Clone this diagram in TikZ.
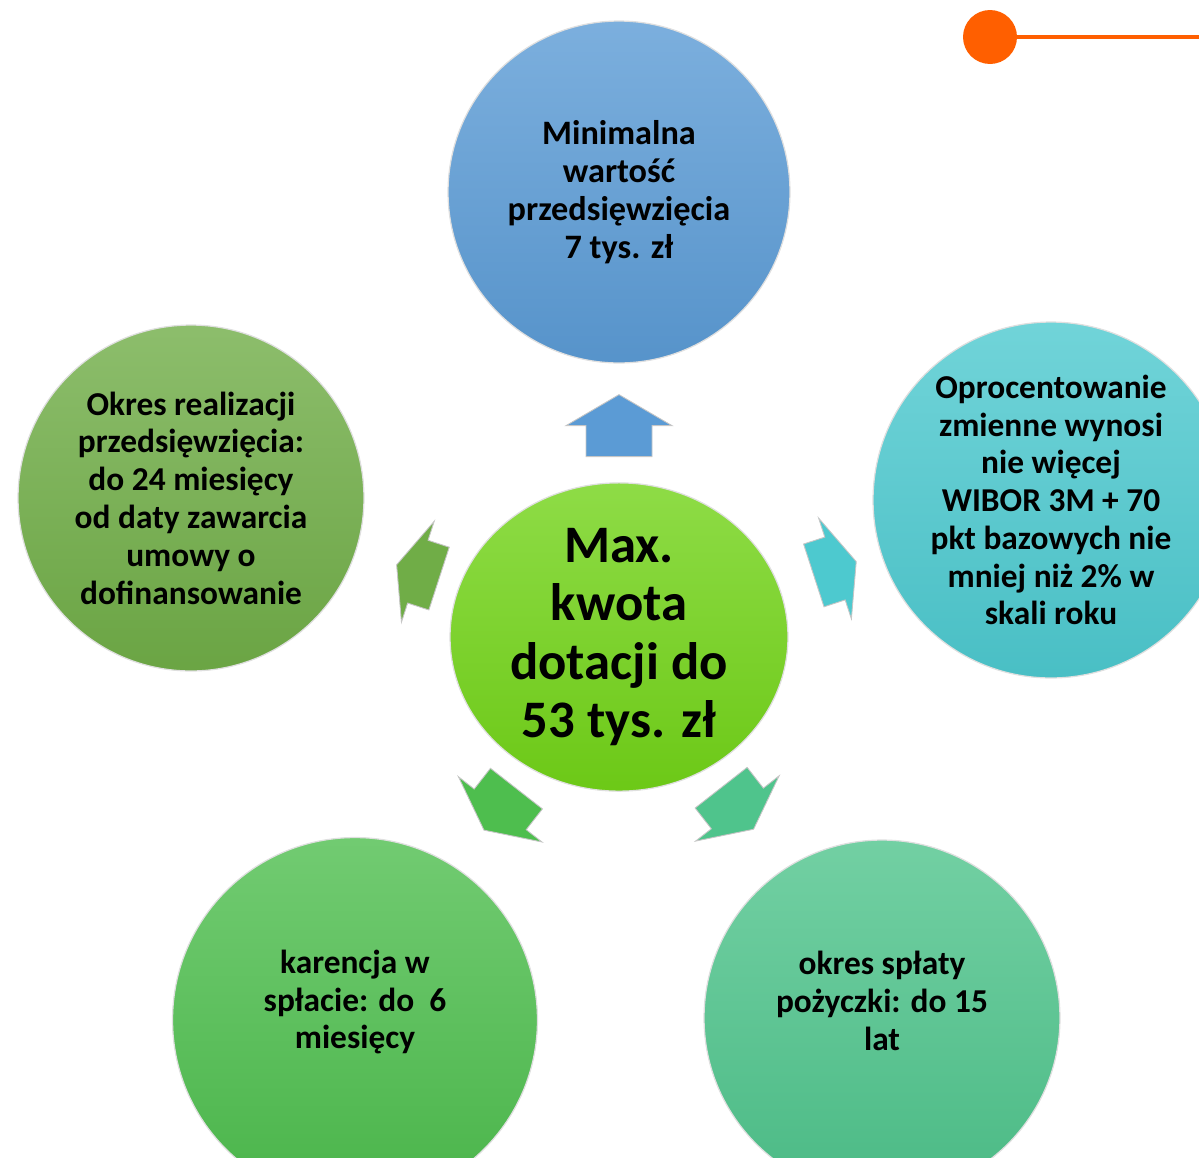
\documentclass[tikz,border=0pt]{standalone}
\usepackage{fontspec}
\setmainfont{Carlito}
\usetikzlibrary{calc,shapes.geometric}

\definecolor{topblue}{HTML}{5B9BD5}
\definecolor{midgreen}{HTML}{72D318}
\definecolor{leftgreen}{HTML}{70AD47}
\definecolor{rightcyan}{HTML}{4DC9CF}
\definecolor{blgreen}{HTML}{4EBE4E}
\definecolor{brgreen}{HTML}{4FC48C}
\definecolor{dotorange}{HTML}{FF5F00}

\begin{document}
\begin{tikzpicture}[x=0.02cm, y=-0.02cm,
    every node/.style={align=center, font=\bfseries\fontsize{19}{21.5}\selectfont},
    ball/.style={circle, inner sep=0pt, draw=gray!25, line width=0.7pt,
        top color=#1!80!white, bottom color=#1!95!black}]
    \useasboundingbox (0,0) rectangle (1199,1157);

    % circles
    \node[ball=topblue, minimum size=6.84cm,
        font=\bfseries\fontsize{19.5}{21.7}\selectfont] (top) at (619,192)
        {Minimalna\\wartość\\przedsięwzięcia\\7 tys. zł};
    \node[ball=leftgreen, minimum size=6.92cm] (left) at (191,498)
        {Okres realizacji\\przedsięwzięcia:\\do 24 miesięcy\\od daty zawarcia\\umowy o\\dofinansowanie};
    \node[ball=rightcyan, minimum size=7.12cm] (right) at (1051,500)
        {Oprocentowanie\\zmienne wynosi\\nie więcej\\WIBOR 3M + 70\\pkt bazowych nie\\mniej niż 2\% w\\skali roku};
    \node[ball=blgreen, minimum size=7.3cm,
        label={[yshift=0.36cm]center:karencja w\\spłacie: do~ 6\\miesięcy}] (botleft) at (355,1020) {};
    \node[ball=brgreen, minimum size=7.12cm,
        label={[yshift=0.34cm]center:okres spłaty\\pożyczki: do 15\\lat}] (botright) at (882,1018) {};
    \node[ball=midgreen, ellipse, minimum width=6.76cm, minimum height=6.14cm,
        font=\bfseries\fontsize{30}{33.3}\selectfont] (mid) at (619,637)
        {Max.\\kwota\\dotacji do\\53 tys. zł};

    % block arrows
    \foreach \n/\f/\a/\s/\c in {top/0.475/90/1/topblue, left/0.47/162/0.72/leftgreen,
        right/0.5/18/0.72/rightcyan, botleft/0.45/-128/0.85/blgreen,
        botright/0.45/-52/0.85/brgreen}
        \fill[\c, draw=gray!45, line width=0.5pt,
            shift={($(mid)!\f!(\n)$)}, rotate=\a, xscale=\s]
            (-31,-33) -- (0,-33) -- (0,-53) -- (31,0) -- (0,53) -- (0,33) -- (-31,33) -- cycle;

    % orange marker
    \node[circle, fill=dotorange, minimum size=1.08cm, inner sep=0pt] (dot) at (990,37) {};
    \coordinate (edge) at (1199,37);
    \draw[dotorange, line width=2.3pt] (dot) -- (edge);
\end{tikzpicture}
\end{document}
